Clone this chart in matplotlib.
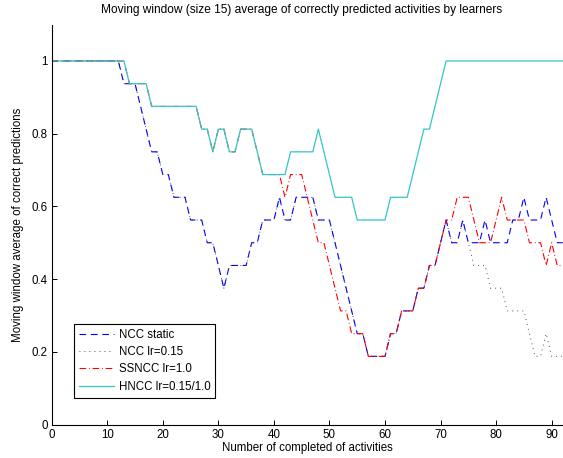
import numpy as np
import matplotlib
matplotlib.use('Agg')
import matplotlib.pyplot as plt

# Datos (media movil de aciertos)
ncc_static = [
    1, 1, 1, 1, 1, 1, 1, 1, 1, 1,
    1, 1, 1, 0.9375, 0.9375, 0.9375, 0.875, 0.8125, 0.75, 0.75,
    0.6875, 0.6875, 0.625, 0.625, 0.625, 0.5625, 0.5625, 0.5625, 0.5, 0.5,
    0.4375, 0.375, 0.4375, 0.4375, 0.4375, 0.4375, 0.5, 0.5, 0.5625, 0.5625,
    0.5625, 0.625, 0.5625, 0.5625, 0.625, 0.625, 0.625, 0.625, 0.5625, 0.5625,
    0.5625, 0.5, 0.4375, 0.375, 0.3125, 0.25, 0.25, 0.1875, 0.1875, 0.1875,
    0.1875, 0.25, 0.25, 0.3125, 0.3125, 0.3125, 0.375, 0.375, 0.4375, 0.4375,
    0.5, 0.5625, 0.5, 0.5, 0.5625, 0.5, 0.5, 0.5, 0.5625, 0.5,
    0.5, 0.5, 0.5, 0.5625, 0.5625, 0.625, 0.5625, 0.5625, 0.5625, 0.625,
    0.5625, 0.5, 0.5,
]

ncc_lr015 = [
    1, 1, 1, 1, 1, 1, 1, 1, 1, 1,
    1, 1, 1, 0.9375, 0.9375, 0.9375, 0.875, 0.8125, 0.75, 0.75,
    0.6875, 0.6875, 0.625, 0.625, 0.625, 0.5625, 0.5625, 0.5625, 0.5, 0.5,
    0.4375, 0.375, 0.4375, 0.4375, 0.4375, 0.4375, 0.5, 0.5, 0.5625, 0.5625,
    0.5625, 0.625, 0.5625, 0.5625, 0.625, 0.625, 0.625, 0.625, 0.5625, 0.5625,
    0.5625, 0.5, 0.4375, 0.375, 0.3125, 0.25, 0.25, 0.1875, 0.1875, 0.1875,
    0.1875, 0.25, 0.25, 0.3125, 0.3125, 0.3125, 0.375, 0.375, 0.4375, 0.4375,
    0.5, 0.5625, 0.5, 0.5, 0.5625, 0.5, 0.4375, 0.4375, 0.4375, 0.375,
    0.375, 0.375, 0.3125, 0.3125, 0.3125, 0.3125, 0.25, 0.1875, 0.1875, 0.25,
    0.1875, 0.1875, 0.1875,
]

ssncc = [
    1, 1, 1, 1, 1, 1, 1, 1, 1, 1,
    1, 1, 1, 1, 0.9375, 0.9375, 0.9375, 0.9375, 0.875, 0.875,
    0.875, 0.875, 0.875, 0.875, 0.875, 0.875, 0.875, 0.8125, 0.8125, 0.75,
    0.8125, 0.8125, 0.75, 0.75, 0.8125, 0.8125, 0.8125, 0.75, 0.6875, 0.6875,
    0.6875, 0.6875, 0.625, 0.6875, 0.6875, 0.6875, 0.625, 0.5625, 0.5, 0.5,
    0.4375, 0.375, 0.3125, 0.3125, 0.25, 0.25, 0.25, 0.1875, 0.1875, 0.1875,
    0.1875, 0.25, 0.25, 0.3125, 0.3125, 0.3125, 0.375, 0.375, 0.4375, 0.4375,
    0.5, 0.5625, 0.5625, 0.625, 0.625, 0.625, 0.5625, 0.5, 0.5, 0.5,
    0.5625, 0.625, 0.5625, 0.5625, 0.5625, 0.5625, 0.5, 0.5, 0.5, 0.4375,
    0.5, 0.4375, 0.4375,
]

hncc = [
    1, 1, 1, 1, 1, 1, 1, 1, 1, 1,
    1, 1, 1, 1, 0.9375, 0.9375, 0.9375, 0.9375, 0.875, 0.875,
    0.875, 0.875, 0.875, 0.875, 0.875, 0.875, 0.875, 0.8125, 0.8125, 0.75,
    0.8125, 0.8125, 0.75, 0.75, 0.8125, 0.8125, 0.8125, 0.75, 0.6875, 0.6875,
    0.6875, 0.6875, 0.6875, 0.75, 0.75, 0.75, 0.75, 0.75, 0.8125, 0.75,
    0.6875, 0.625, 0.625, 0.625, 0.625, 0.5625, 0.5625, 0.5625, 0.5625, 0.5625,
    0.5625, 0.625, 0.625, 0.625, 0.625, 0.6875, 0.75, 0.8125, 0.8125, 0.875,
    0.9375, 1, 1, 1, 1, 1, 1, 1, 1, 1,
    1, 1, 1, 1, 1, 1, 1, 1, 1, 1,
    1, 1, 1,
]

labels = ['NCC static', 'NCC lr=0.15', 'SSNCC lr=1.0', 'HNCC lr=0.15/1.0']
x_ticks = [0, 10, 20, 30, 40, 50, 60, 70, 80, 90]
y_ticks = [0, 0.2, 0.4, 0.6, 0.8, 1]
y_tick_labels = ['0', '0.2', '0.4', '0.6', '0.8', '1']

activities = np.arange(len(ncc_static))

plt.rcParams['font.family'] = ['Liberation Sans', 'DejaVu Sans']
plt.rcParams['font.size'] = 8.3
plt.rcParams['lines.scale_dashes'] = False

# Crea la figura
fig = plt.figure(figsize=(5.63, 4.58), dpi=100)
ax = fig.add_axes([0.0918, 0.0731, 0.9078, 0.8732])

ax.plot(activities, ncc_static, color='#0000ff', lw=0.8, dashes=(4.8, 3.4), label=labels[0])
ax.plot(activities, ncc_lr015, color='#333333', lw=0.7, dashes=(0.6, 3.0), label=labels[1])
ax.plot(activities, ssncc, color='#ff0000', lw=0.8, dashes=(4.8, 2.0, 0.6, 2.0), label=labels[2])
ax.plot(activities, hncc, color='#33c6c6', lw=0.9, label=labels[3])

ax.set_xlim(0, 92)
ax.set_ylim(0, 1.1)
ax.set_xticks(x_ticks)
ax.set_yticks(y_ticks)
ax.set_yticklabels(y_tick_labels)
ax.tick_params(direction='in', length=3.5, width=0.7, pad=3)

# Sin caja: solo ejes izquierdo e inferior
ax.spines['top'].set_visible(False)
ax.spines['right'].set_visible(False)
ax.spines['left'].set_linewidth(0.8)
ax.spines['bottom'].set_linewidth(0.8)

ax.set_title('Moving window (size 15) average of correctly predicted activities by learners',
             fontsize=8.6, pad=8, x=0.488)
ax.set_xlabel('Number of completed of activities', labelpad=1)
ax.set_ylabel('Moving window average of correct predictions', labelpad=5)

leg = ax.legend(loc='lower left', bbox_to_anchor=(0.044, 0.067), fancybox=False,
                edgecolor='black', framealpha=1, borderaxespad=0, handlelength=3.0,
                handletextpad=0.4, labelspacing=0.45, borderpad=0.45)
leg.get_frame().set_linewidth(0.8)

plt.savefig('out.png', dpi=100)
